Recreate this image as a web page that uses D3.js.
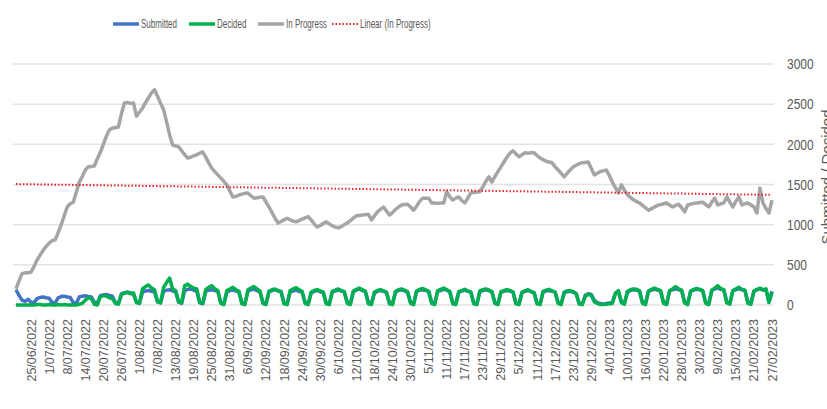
<!DOCTYPE html>
<html>
<head>
<meta charset="utf-8">
<script src="https://cdn.jsdelivr.net/npm/d3@7"></script>
<style>
  body { margin: 0; background: #fff; }
  svg { display: block; }
  text { font-family: "Liberation Sans", Arial, sans-serif; fill: #595959; }
</style>
</head>
<body>
<svg width="827" height="409"></svg>
<script>
// one value per day, 20/06/2022 .. 27/02/2023 (a few days missing in the source)
var tickLabels = ["25/06/2022","1/07/2022","8/07/2022","14/07/2022","20/07/2022","26/07/2022","1/08/2022","7/08/2022",
  "13/08/2022","19/08/2022","25/08/2022","31/08/2022","6/09/2022","12/09/2022","18/09/2022","24/09/2022",
  "30/09/2022","6/10/2022","12/10/2022","18/10/2022","24/10/2022","30/10/2022","5/11/2022","11/11/2022",
  "17/11/2022","23/11/2022","29/11/2022","5/12/2022","11/12/2022","17/12/2022","23/12/2022","29/12/2022",
  "4/01/2023","10/01/2023","16/01/2023","22/01/2023","28/01/2023","3/02/2023","9/02/2023","15/02/2023",
  "21/02/2023","27/02/2023"];
var firstLabelIndex = 5, labelStep = 6;

var yTicks = [0, 500, 1000, 1500, 2000, 2500, 3000];

var submitted = [
  190,120,60,45,70,35,30, 80,95,100,90,85,30,25, 90,105,110,100,95,30,20, 100,110,115,105,100,35,25,
  115,125,130,120,110,30,20, 140,150,160,150,140,35,20, 160,175,180,170,160,40,25, 170,185,190,175,165,35,20,
  180,195,200,185,170,30,15, 170,185,190,180,170,30,15, 160,180,185,175,165,25,15, 170,190,195,180,160,30,20,
  165,180,190,175,170,25,10, 160,175,185,170,160,30,15, 150,170,180,165,155,25,10, 160,175,185,175,160,30,15,
  165,185,200,180,165,30,20, 150,170,180,170,155,25,15, 160,180,190,175,160,30,15, 165,185,190,180,170,35,20,
  170,180,195,185,165,30,15, 160,175,185,170,160,25,10, 165,180,190,180,165,30,15, 160,170,180,175,160,25,15,
  155,170,180,165,150,25,10, 160,175,180,170,160,30,15, 150,165,170,160,140,20,10, 120,140,130,60,30,20,10,
  20,25,30,150,170,40,20, 160,180,190,185,170,35,20, 170,185,195,185,175,30,15, 175,190,200,190,180,35,20,
  170,185,195,190,175,30,15, 180,200,210,195,185,40,20, 175,190,200,190,180,35,25, 170,190,200,185,195,40,170
];

var decided = [
  0,0,0,0,0,0,0, 5,5,0,0,5,0,0, 5,0,5,0,0,0,0, 10,20,60,90,80,10,0,
  100,120,110,90,80,20,10, 130,150,160,140,150,30,20, 200,230,250,210,190,40,30, 220,280,335,200,180,40,30,
  240,260,230,210,200,30,20, 190,220,240,200,180,20,5, 180,200,220,190,170,15,5, 190,210,230,200,175,20,5,
  170,190,200,180,160,15,5, 180,200,215,190,170,20,5, 160,180,190,175,160,15,5, 170,185,200,180,165,20,5,
  175,195,210,190,170,15,5, 160,180,190,175,160,15,5, 170,190,200,185,165,20,5, 175,195,205,190,170,20,5,
  180,195,210,190,170,15,5, 165,180,195,175,160,15,5, 175,190,200,185,165,20,5, 165,180,190,180,160,15,5,
  160,175,190,170,155,15,5, 170,185,195,175,160,20,5, 160,175,180,165,140,10,5, 110,130,120,40,20,5,5,
  10,15,20,140,180,30,10, 170,190,200,195,180,20,5, 175,195,210,195,180,20,5, 180,200,230,200,185,25,5,
  175,195,205,195,180,20,5, 185,210,240,205,190,25,10, 180,200,220,195,185,20,10, 175,195,210,190,200,30,160
];

var inProgress = [
  200,300,390,400,400,410,480,560,620,680,730,770,800,810,900,1000,1110,1220,1260,1280,
  1400,1530,1600,1680,1720,1725,1730,1820,1900,2000,2100,2180,2200,2210,2215,2380,2515,2520,2510,2515,
  2350,2400,2450,2520,2580,2640,2680,2600,2510,2430,2280,2120,1990,1980,1970,1920,1870,1830,1840,1855,
  1870,1890,1905,1840,1770,1705,1660,1620,1580,1540,1495,1420,1345,1350,1370,1380,1390,1395,1360,1330,
  1335,1340,1345,1280,1220,1150,1080,1020,1040,1060,1080,1060,1045,1035,1050,1070,1085,1100,1060,1010,
  970,990,1015,1035,1010,985,970,960,975,1000,1020,1050,1080,1110,1115,1120,1125,1130,1060,1110,
  1160,1190,1220,1170,1120,1150,1190,1220,1245,1250,1255,1220,1180,1230,1290,1330,1330,1330,1270,1270,
  1265,1270,1270,1410,1350,1305,1330,1345,1300,1270,1330,1395,1400,1405,1410,1470,1540,1595,1530,1600,
  1660,1720,1780,1840,1890,1920,1880,1845,1870,1895,1890,1895,1895,1860,1830,1810,1790,1780,1770,1720,
  1680,1640,1595,1640,1680,1720,1740,1760,1770,1775,1780,1700,1620,1640,1660,1670,1680,1610,1530,1460,
  1395,1495,1430,1370,1340,1310,1290,1270,1240,1210,1180,1200,1220,1240,1250,1260,1270,1245,1220,1240,
  1255,1210,1160,1245,1255,1265,1270,1275,1280,1250,1220,1280,1330,1245,1260,1270,1345,1280,1220,1290,
  1345,1245,1260,1270,1245,1220,1145,1455,1270,1200,1145,1305
];

var svg = d3.select("svg"),
    plotL = 14, plotR = 772, plotT = 64, plotB = 305;

var n = inProgress.length;
var x = d3.scaleLinear().domain([0, n - 1]).range([plotL + 2, plotR]);
var y = d3.scaleLinear().domain([0, 3000]).range([plotB, plotT]);

// gridlines
svg.append("g").selectAll("line")
  .data(yTicks)
  .enter().append("line")
    .attr("x1", plotL - 1).attr("x2", plotR + 2)
    .attr("y1", function(d) { return y(d); }).attr("y2", function(d) { return y(d); })
    .attr("stroke", "#e3e3e3").attr("stroke-width", 1.5);

// right axis (labels squeezed a little, like the source image)
svg.append("g").selectAll("text")
  .data(yTicks)
  .enter().append("text")
    .attr("transform", function(d) { return "translate(787," + y(d) + ") scale(0.8,1)"; })
    .attr("dy", "0.35em")
    .style("font-size", "15px")
    .text(function(d) { return d; });

svg.append("text")
  .attr("transform", "translate(832,177) rotate(-90)")
  .attr("text-anchor", "middle")
  .style("font-size", "15px")
  .text("Submitted / Decided");

// x labels, every 6th category
var labelIdx = tickLabels.map(function(d, i) { return firstLabelIndex + i * labelStep; });
svg.append("g").selectAll("text")
  .data(tickLabels)
  .enter().append("text")
    .attr("transform", function(d, i) { return "translate(" + (x(labelIdx[i]) + 4.5) + ",319) rotate(-90)"; })
    .attr("text-anchor", "end")
    .style("font-size", "12.5px")
    .text(function(d) { return d; });

var line = d3.line()
  .x(function(d, i) { return x(i); })
  .y(function(d) { return y(d); });

svg.append("path").datum(inProgress)
  .attr("d", line).attr("fill", "none")
  .attr("stroke", "#a5a5a5").attr("stroke-width", 3.5).attr("stroke-linejoin", "round");

svg.append("path").datum(submitted)
  .attr("d", line).attr("fill", "none")
  .attr("stroke", "#4472c4").attr("stroke-width", 3.5).attr("stroke-linejoin", "round");

svg.append("path").datum(decided)
  .attr("d", line).attr("fill", "none")
  .attr("stroke", "#00b050").attr("stroke-width", 3.5).attr("stroke-linejoin", "round");

// linear trend of In Progress (least squares, like Excel's trendline)
var mx = d3.mean(inProgress, function(d, i) { return i; }),
    my = d3.mean(inProgress);
var sxy = d3.sum(inProgress, function(d, i) { return (i - mx) * (d - my); }),
    sxx = d3.sum(inProgress, function(d, i) { return (i - mx) * (i - mx); });
var slope = sxy / sxx, icpt = my - slope * mx;

svg.append("line")
  .attr("x1", x(0)).attr("x2", x(n - 1))
  .attr("y1", y(icpt)).attr("y2", y(icpt + slope * (n - 1)))
  .attr("stroke", "#e8262b").attr("stroke-width", 2).attr("stroke-dasharray", "1.5,2");

// legend
var legendItems = [
  { name: "Submitted", color: "#4472c4", x: 113, dash: null },
  { name: "Decided", color: "#00b050", x: 189, dash: null },
  { name: "In Progress", color: "#a5a5a5", x: 258, dash: null },
  { name: "Linear (In Progress)", color: "#e8262b", x: 332, dash: "1.5,2" }
];
var lg = svg.append("g").selectAll("g").data(legendItems).enter().append("g")
  .attr("transform", function(d) { return "translate(" + d.x + ",24)"; });
lg.append("line")
  .attr("x1", 0).attr("x2", 26).attr("y1", 0).attr("y2", 0)
  .attr("stroke", function(d) { return d.color; })
  .attr("stroke-width", function(d) { return d.dash ? 2 : 3.5; })
  .attr("stroke-dasharray", function(d) { return d.dash; });
lg.append("text")
  .attr("transform", "translate(28,0) scale(0.64,1)")
  .attr("dy", "0.35em")
  .style("font-size", "12.5px")
  .text(function(d) { return d.name; });
</script>
</body>
</html>
